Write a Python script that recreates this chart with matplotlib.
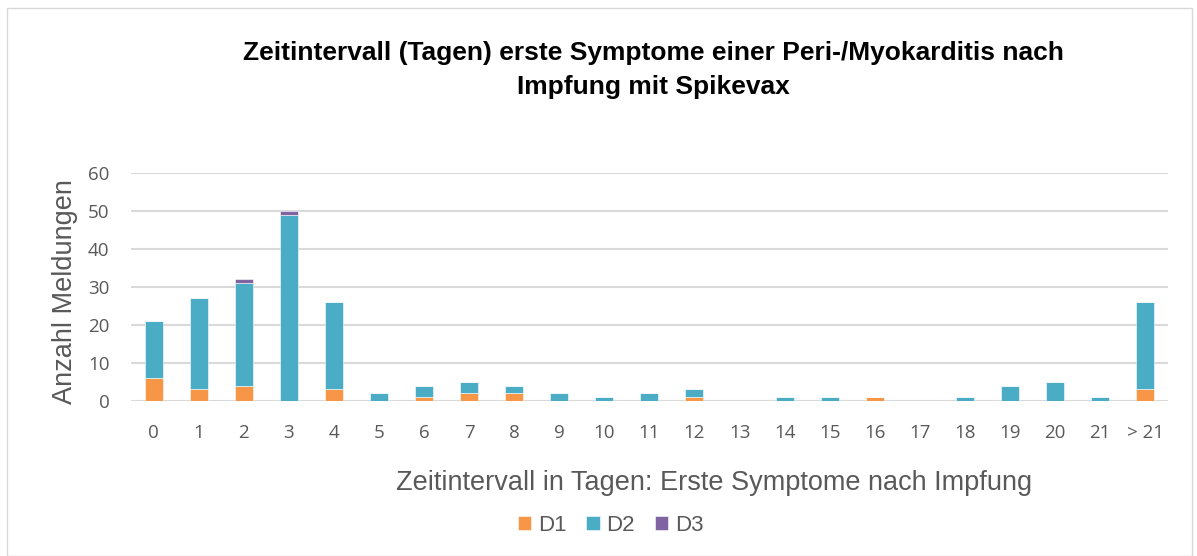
import matplotlib.pyplot as plt
import numpy as np
from matplotlib.patches import Rectangle

categories = ['0', '1', '2', '3', '4', '5', '6', '7', '8', '9', '10', '11',
              '12', '13', '14', '15', '16', '17', '18', '19', '20', '21', '> 21']
d1 = [6, 3, 4, 0, 3, 0, 1, 2, 2, 0, 0, 0, 1, 0, 0, 0, 1, 0, 0, 0, 0, 0, 3]
d2 = [15, 24, 27, 49, 23, 2, 3, 3, 2, 2, 1, 2, 2, 0, 1, 1, 0, 0, 1, 4, 5, 1, 23]
d3 = [0, 0, 1, 1, 0, 0, 0, 0, 0, 0, 0, 0, 0, 0, 0, 0, 0, 0, 0, 0, 0, 0, 0]

plt.rcParams['font.family'] = ['Liberation Sans', 'DejaVu Sans']

fig = plt.figure(figsize=(11.97, 5.56), dpi=100)
ax = fig.add_axes([0.1095, 0.279, 0.866, 0.41])

x = np.arange(len(categories))
w = 0.4
ax.bar(x, d1, w, color='#F79646', edgecolor='white', linewidth=0.4, label='D1', zorder=3)
ax.bar(x, d2, w, bottom=d1, color='#4BACC6', edgecolor='white', linewidth=0.4, label='D2', zorder=3)
ax.bar(x, d3, w, bottom=np.array(d1) + np.array(d2), color='#8064A2',
       edgecolor='white', linewidth=0.4, label='D3', zorder=3)

ax.set_xlim(-0.5, len(categories) - 0.5)
ax.set_ylim(0, 60)
ax.set_yticks(range(0, 61, 10))
ax.set_xticks(x)
ax.set_xticklabels(categories)
ax.yaxis.grid(True, color='#D9D9D9', linewidth=1.5, zorder=0)
for s in ['top', 'right', 'left', 'bottom']:
    ax.spines[s].set_visible(False)
ax.tick_params(length=0, labelsize=13.5, colors='#595959')
for lab in ax.get_xticklabels() + ax.get_yticklabels():
    lab.set_family(['Open Sans', 'DejaVu Sans'])
ax.tick_params(axis='y', pad=15.5)
ax.tick_params(axis='x', pad=17)

ax.set_ylabel('Anzahl Meldungen', fontsize=19.5, color='#595959')
ax.yaxis.set_label_coords(-0.051, 0.48)
ax.set_xlabel('Zeitintervall in Tagen: Erste Symptome nach Impfung', fontsize=19.5,
              color='#595959')
ax.xaxis.set_label_coords(0.562, -0.305)

fig.text(0.546, 0.874, 'Zeitintervall (Tagen) erste Symptome einer Peri-/Myokarditis nach\nImpfung mit Spikevax',
         ha='center', va='center', fontsize=19, fontweight='bold', linespacing=1.55)

fig.legend(loc='center', bbox_to_anchor=(0.51, 0.055), ncol=3, frameon=False,
           fontsize=16, handlelength=0.6, handleheight=0.6, handletextpad=0.3,
           columnspacing=0.9, labelcolor='#595959')

fig.patches.append(Rectangle((0.006, 0.0), 0.99, 0.985, transform=fig.transFigure,
                             fill=False, edgecolor='#D9D9D9', linewidth=1))

fig.savefig('out.png', dpi=100)
